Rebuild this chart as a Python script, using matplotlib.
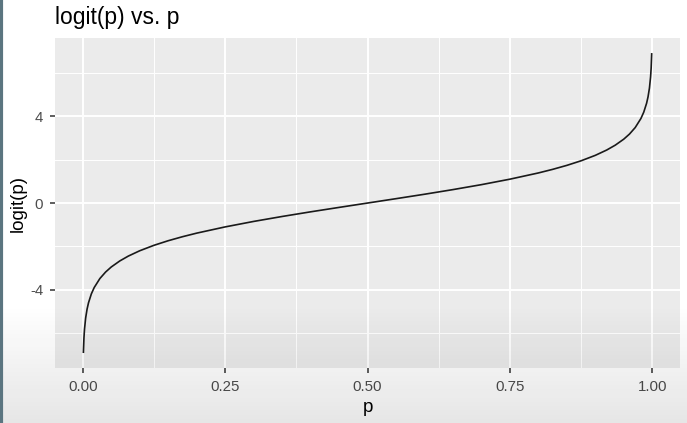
"""logit(p) vs. p, ggplot2-style line chart."""

import numpy as np
import matplotlib
matplotlib.use("Agg")
import matplotlib.pyplot as plt

# ---------------------------------------------------------------------------
# Data
# ---------------------------------------------------------------------------

P_VALUES = [
    0.001, 0.002, 0.003, 0.005, 0.0075, 0.01, 0.015, 0.02, 0.03, 0.04, 0.05,
    0.065, 0.08, 0.1, 0.125, 0.15, 0.175, 0.2, 0.25, 0.3, 0.35, 0.4, 0.45,
    0.5,
    0.55, 0.6, 0.65, 0.7, 0.75, 0.8, 0.825, 0.85, 0.875, 0.9, 0.92, 0.935,
    0.95, 0.96, 0.97, 0.98, 0.985, 0.99, 0.9925, 0.995, 0.997, 0.998, 0.999,
]
LOGIT_VALUES = [
    -6.907, -6.213, -5.806, -5.293, -4.885, -4.595, -4.184, -3.892, -3.476,
    -3.178, -2.944, -2.666, -2.442, -2.197, -1.946, -1.735, -1.551, -1.386,
    -1.099, -0.847, -0.619, -0.405, -0.201,
    0.0,
    0.201, 0.405, 0.619, 0.847, 1.099, 1.386, 1.551, 1.735, 1.946, 2.197,
    2.442, 2.666, 2.944, 3.178, 3.476, 3.892, 4.184, 4.595, 4.885, 5.293,
    5.806, 6.213, 6.907,
]

X_TICKS = [0.0, 0.25, 0.5, 0.75, 1.0]
X_TICK_LABELS = ["0.00", "0.25", "0.50", "0.75", "1.00"]
X_MINOR = [0.125, 0.375, 0.625, 0.875]
Y_TICKS = [-4, 0, 4]
Y_TICK_LABELS = ["-4", "0", "4"]
Y_MINOR = [-6, -2, 2, 6]

TITLE = "logit(p) vs. p"
X_LABEL = "p"
Y_LABEL = "logit(p)"

PANEL_BG = "#EBEBEB"
TICK_COLOR = "#4D4D4D"
FONT = ["Liberation Sans", "DejaVu Sans"]

plt.rcParams["font.family"] = FONT


def main():
    fig = plt.figure(figsize=(6.87, 4.23), dpi=100)
    fig.patch.set_facecolor("white")
    ax = fig.add_axes([0.080, 0.130, 0.910, 0.780])
    ax.set_facecolor(PANEL_BG)

    # ggplot-style expansion: 5% on each side
    xr = max(P_VALUES) - min(P_VALUES)
    yr = max(LOGIT_VALUES) - min(LOGIT_VALUES)
    ax.set_xlim(min(P_VALUES) - 0.05 * xr, max(P_VALUES) + 0.05 * xr)
    ax.set_ylim(min(LOGIT_VALUES) - 0.05 * yr, max(LOGIT_VALUES) + 0.05 * yr)

    for x in X_MINOR:
        ax.axvline(x, color="white", lw=0.7, zorder=0.5)
    for y in Y_MINOR:
        ax.axhline(y, color="white", lw=0.7, zorder=0.5)
    for x in X_TICKS:
        ax.axvline(x, color="white", lw=1.4, zorder=0.6)
    for y in Y_TICKS:
        ax.axhline(y, color="white", lw=1.4, zorder=0.6)

    ax.plot(P_VALUES, LOGIT_VALUES, color="#1a1a1a", lw=1.2, zorder=2,
            solid_capstyle="butt")

    ax.set_xticks(X_TICKS)
    ax.set_xticklabels(X_TICK_LABELS)
    ax.set_yticks(Y_TICKS)
    ax.set_yticklabels(Y_TICK_LABELS)
    ax.tick_params(axis="both", colors="#333333", length=3.5, width=1.1,
                   labelsize=10.8, labelcolor=TICK_COLOR)
    ax.tick_params(axis="x", pad=5)
    ax.tick_params(axis="y", pad=5)
    for spine in ax.spines.values():
        spine.set_visible(False)

    ax.set_xlabel(X_LABEL, fontsize=13.5, color="black", labelpad=4)
    ax.set_ylabel(Y_LABEL, fontsize=13.5, color="black", labelpad=2)
    fig.text(0.080, 0.958, TITLE, fontsize=16.5, color="black",
             ha="left", va="center")

    # faint darkening toward the bottom, as in the screenshot
    shade = fig.add_axes([0, 0, 1, 1], zorder=10)
    shade.axis("off")
    grad = np.zeros((100, 1, 4))
    ramp = np.clip((np.linspace(0, 1, 100) - 0.72) / 0.28, 0, 1)
    grad[:, 0, 3] = ramp * 0.10
    shade.imshow(grad, aspect="auto", extent=[0, 1, 0, 1], origin="upper")
    shade.set_xlim(0, 1)
    shade.set_ylim(0, 1)
    shade.axvline(0.002, color="#5b7580", lw=3)

    fig.savefig("out.png", dpi=100)
    plt.close(fig)


if __name__ == "__main__":
    main()
